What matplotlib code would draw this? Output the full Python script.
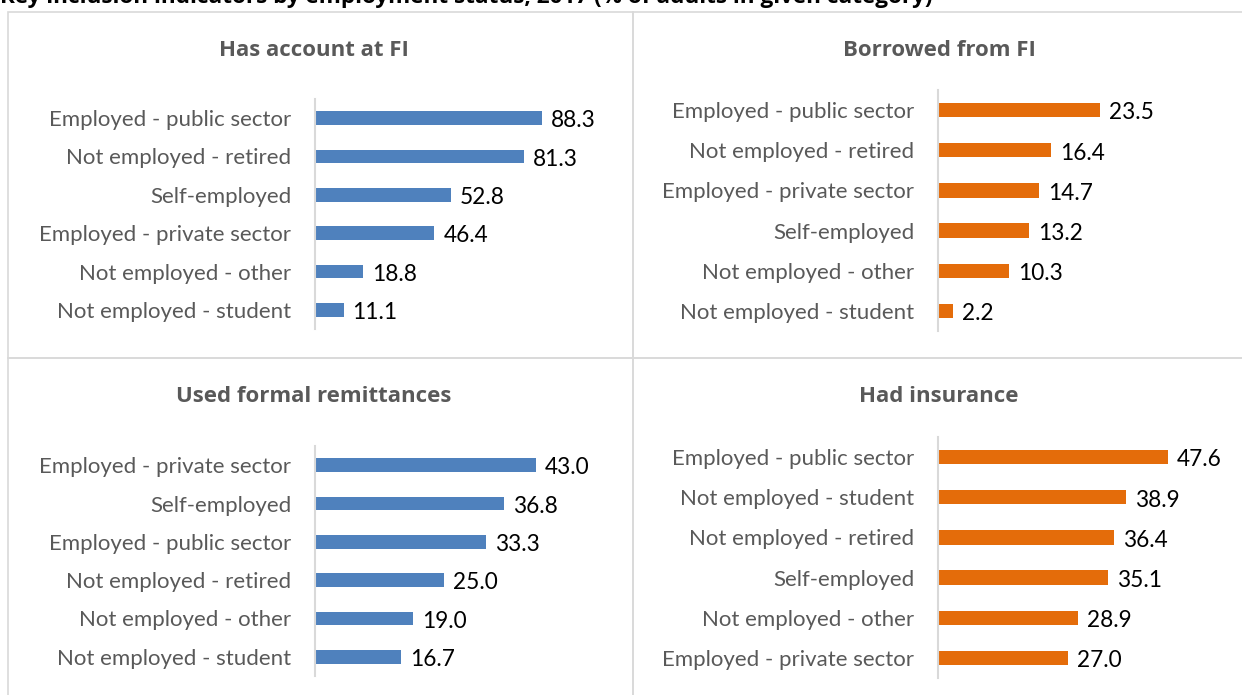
import matplotlib
matplotlib.use("Agg")
import matplotlib.pyplot as plt
from matplotlib.patches import Rectangle

W, H = 1242, 695
fig = plt.figure(figsize=(W / 100, H / 100), dpi=100)
plt.rcParams['font.family'] = ['Lato', 'DejaVu Sans']
TITLE_FONT = ['Open Sans', 'DejaVu Sans']

suptitle = "Key inclusion indicators by employment status, 2017 (% of adults in given category)"

titles = ["Has account at FI", "Borrowed from FI", "Used formal remittances", "Had insurance"]

cats1 = ["Employed - public sector", "Not employed - retired", "Self-employed",
         "Employed - private sector", "Not employed - other", "Not employed - student"]
vals1 = [88.3, 81.3, 52.8, 46.4, 18.8, 11.1]

cats2 = ["Employed - public sector", "Not employed - retired", "Employed - private sector",
         "Self-employed", "Not employed - other", "Not employed - student"]
vals2 = [23.5, 16.4, 14.7, 13.2, 10.3, 2.2]

cats3 = ["Employed - private sector", "Self-employed", "Employed - public sector",
         "Not employed - retired", "Not employed - other", "Not employed - student"]
vals3 = [43.0, 36.8, 33.3, 25.0, 19.0, 16.7]

cats4 = ["Employed - public sector", "Not employed - student", "Not employed - retired",
         "Self-employed", "Not employed - other", "Employed - private sector"]
vals4 = [47.6, 38.9, 36.4, 35.1, 28.9, 27.0]

BLUE = "#4F81BD"
ORANGE = "#E46C0A"
GRAY = "#595959"
BORDER = "#D9D9D9"

# panel boxes (pixel coords: left, top, right, bottom)
boxes = [(8, 12, 633, 358), (633, 12, 1250, 358), (8, 358, 633, 700), (633, 358, 1250, 700)]
for (l, t, r, b) in boxes:
    fig.patches.append(Rectangle((l / W, 1 - b / H), (r - l) / W, (b - t) / H,
                                 transform=fig.transFigure, fill=False,
                                 edgecolor=BORDER, linewidth=1.2))

fig.text(0.0, 1 + 2 / H, suptitle, ha='left', va='center', fontsize=16.2,
         fontweight='bold', color='black', family=TITLE_FONT)

# axes specs: left px, top px, bottom px, xmax, px per unit
specs = [
    (315, 99, 329, 100, 2.57, cats1, vals1, BLUE, titles[0], 314, 50),
    (938, 90, 331, 30, 6.90, cats2, vals2, ORANGE, titles[1], 939, 50),
    (315, 446, 676, 50, 5.14, cats3, vals3, BLUE, titles[2], 314, 396),
    (938, 437, 678, 50, 4.83, cats4, vals4, ORANGE, titles[3], 939, 396),
]

for (left, top, bottom, xmax, ppu, cats, vals, color, title, tx, ty) in specs:
    width = xmax * ppu
    ax = fig.add_axes([left / W, 1 - bottom / H, width / W, (bottom - top) / H])
    y = list(range(len(cats)))
    ax.barh(y, vals, height=0.36, color=color)
    ax.set_ylim(len(cats) - 0.5, -0.5)
    ax.set_xlim(0, xmax)
    ax.set_yticks(y)
    ax.set_yticklabels(cats, fontsize=16, color=GRAY)
    ax.tick_params(axis='y', length=0, pad=17)
    ax.set_xticks([])
    for s in ['top', 'right', 'bottom']:
        ax.spines[s].set_visible(False)
    ax.spines['left'].set_color(BORDER)
    ax.spines['left'].set_linewidth(1.5)
    ax.patch.set_alpha(0)
    for yi, v in zip(y, vals):
        ax.annotate(f"{v:.1f}", (v, yi), xytext=(6.5, -2), textcoords='offset points',
                    ha='left', va='center', fontsize=16.3, color='black',
                    annotation_clip=False)
    fig.text(tx / W, 1 - ty / H, title, ha='center', va='center', fontsize=16,
             fontweight='bold', color=GRAY, family=TITLE_FONT)

fig.savefig("out.png", dpi=100)
